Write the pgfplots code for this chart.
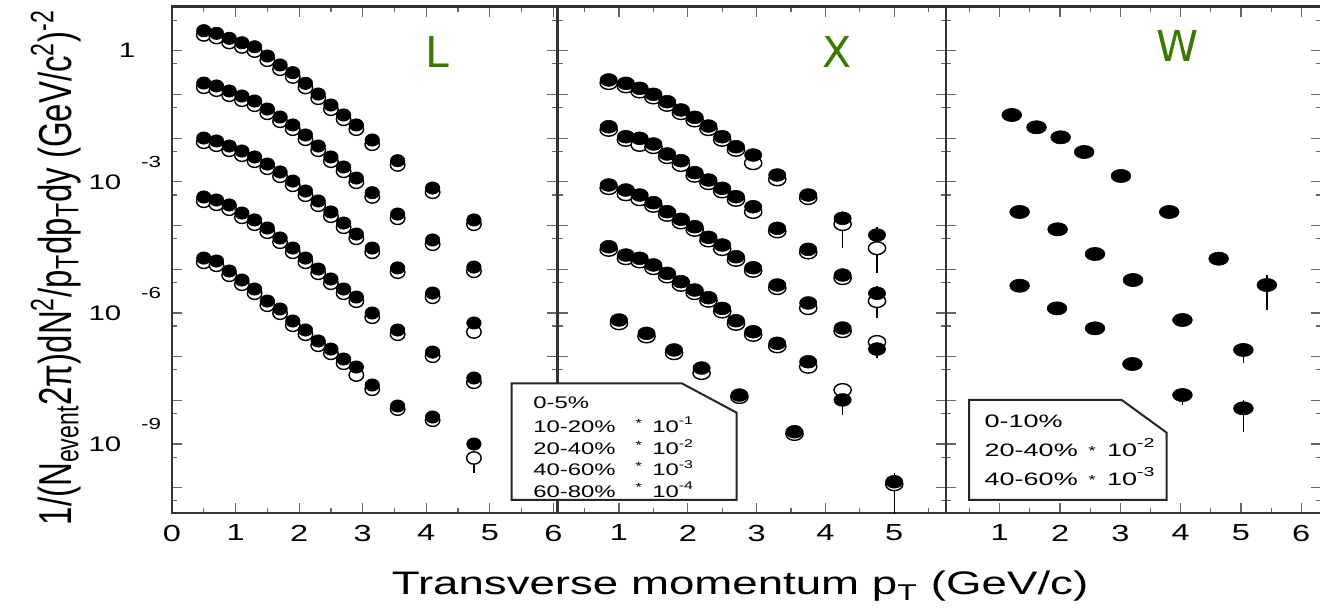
\documentclass[border=0pt]{standalone}
\usepackage{pgfplots}
\pgfplotsset{compat=1.18}
\usepackage{pgfplotstable}
\usepackage{graphicx}
\usepackage{fontspec}
\setmainfont{Liberation Sans}
\newfontfamily\letterfont{DejaVu Sans}
\definecolor{lgreen}{RGB}{59,122,0}
\newcommand{\sx}[1]{\scalebox{1.4}[1]{#1}}
\newcommand{\ylab}[1]{\makebox[0pt][c]{10}\rlap{\hspace{12.9pt}\smash{\raisebox{10.8pt}{\fontsize{8}{8}\selectfont #1}}}}

% ---------------- Lambda (L) ----------------
\pgfplotstableread{
x f o
0.5 2.87 2.30
0.7 2.50 2.00
0.9 1.92 1.54
1.1 1.52 1.22
1.3 1.23 0.98
1.5 0.756 0.605
1.7 0.471 0.377
1.9 0.314 0.251
2.1 0.1795 0.144
2.3 0.102 0.0816
2.5 0.0572 0.0458
2.7 0.0338 0.0270
2.9 0.0200 0.0160
3.15 0.00905 0.00724
3.55 0.00304 0.00243
4.1 7.21e-4 5.77e-4
4.75 1.34e-4 1.07e-4
}\LaA
\pgfplotstableread{
x f o
0.5 0.182 0.146
0.7 0.156 0.125
0.9 0.1197 0.0958
1.1 0.0919 0.0735
1.3 0.0706 0.0565
1.5 0.0463 0.0370
1.7 0.0304 0.0243
1.9 0.0200 0.0160
2.1 0.01178 0.00942
2.3 0.00659 0.00527
2.5 0.00370 0.00296
2.7 0.00218 0.00174
2.9 0.00122 9.76e-4
3.15 5.63e-4 4.50e-4
3.55 1.83e-4 1.46e-4
4.1 4.66e-5 3.73e-5
4.75 1.12e-5 8.96e-6
}\LaB
\pgfplotstableread{
x f o
0.5 0.01005 0.00804
0.7 0.00859 0.00687
0.9 0.00659 0.00527
1.1 0.00507 0.00406
1.3 0.00370 0.00296
1.5 0.00255 0.00204
1.7 0.00168 0.00134
1.9 0.00104 8.32e-4
2.1 6.16e-4 4.93e-4
2.3 3.64e-4 2.91e-4
2.5 2.04e-4 1.63e-4
2.7 1.14e-4 9.12e-5
2.9 6.38e-5 5.10e-5
3.15 3.05e-5 2.44e-5
3.55 1.07e-5 8.56e-6
4.1 2.85e-6 2.28e-6
4.75 5.88e-7 3.66e-7
}\LaC
\pgfplotstableread{
x f o
0.5 4.49e-4 3.59e-4
0.7 3.83e-4 3.06e-4
0.9 2.95e-4 2.36e-4
1.1 1.93e-4 1.54e-4
1.3 1.34e-4 1.07e-4
1.5 8.77e-5 7.02e-5
1.7 5.18e-5 4.14e-5
1.9 3.05e-5 2.44e-5
2.1 1.80e-5 1.44e-5
2.3 1.01e-5 8.08e-6
2.5 5.97e-6 4.78e-6
2.7 3.52e-6 2.82e-6
2.9 2.31e-6 1.85e-6
3.15 9.95e-7 7.96e-7
3.55 4.06e-7 3.25e-7
4.1 1.27e-7 1.02e-7
4.75 3.24e-8 2.59e-8
}\LaD
\pgfplotstableread{
x f o
0.5 1.80e-5 1.44e-5
0.7 1.54e-5 1.23e-5
0.9 9.10e-6 7.28e-6
1.1 5.66e-6 4.53e-6
1.3 3.52e-6 2.82e-6
1.5 1.87e-6 1.50e-6
1.7 1.23e-6 9.84e-7
1.9 6.53e-7 5.22e-7
2.1 4.06e-7 3.25e-7
2.3 2.28e-7 1.82e-7
2.5 1.49e-7 1.19e-7
2.7 8.81e-8 7.05e-8
2.9 5.78e-8 3.79e-8
3.15 2.24e-8 1.79e-8
3.55 7.41e-9 6.30e-9
4.1 4.15e-9 3.50e-9
4.75 1.00e-9 4.79e-10
}\LaE

% ---------------- Xi (X) ----------------
\pgfplotstableread{
x f o
0.85 0.214 0.182
1.1 0.1795 0.153
1.3 0.138 0.117
1.5 0.1005 0.0854
1.7 0.0681 0.0579
1.9 0.0440 0.0374
2.1 0.0299 0.0254
2.3 0.0189 0.0161
2.5 0.01076 0.00915
2.7 0.00635 0.00540
2.95 0.00410 0.00267
3.3 0.00143 0.00114
3.75 4.99e-4 4.24e-4
4.25 1.46e-4 1.08e-4
4.75 6.06e-5 3.03e-5
}\XiA
\pgfplotstableread{
x f o
0.85 0.01823 0.0155
1.1 0.01076 0.00915
1.3 0.00989 0.00700
1.5 0.00733 0.00623
1.7 0.00433 0.00368
1.9 0.00304 0.00243
2.1 0.00162 0.00138
2.3 0.00110 9.35e-4
2.5 7.10e-4 6.04e-4
2.7 4.56e-4 3.88e-4
2.95 2.69e-4 2.04e-4
3.3 8.63e-5 7.34e-5
3.75 2.85e-5 2.42e-5
4.25 7.36e-6 6.26e-6
4.75 2.81e-6 1.87e-6
}\XiB
\pgfplotstableread{
x f o
0.85 8.45e-4 7.2e-4
1.1 6.49e-4 5.2e-4
1.3 4.99e-4 4.0e-4
1.5 3.33e-4 2.83e-4
1.7 2.07e-4 1.76e-4
1.9 1.39e-4 1.18e-4
2.1 9.39e-5 7.98e-5
2.3 5.37e-5 4.56e-5
2.5 3.58e-5 2.9e-5
2.7 1.93e-5 1.64e-5
2.95 1.08e-5 9.2e-6
3.3 4.35e-6 3.7e-6
3.75 1.69e-6 1.29e-6
4.25 4.51e-7 3.83e-7
4.75 1.49e-7 2.16e-7
}\XiC
\pgfplotstableread{
x f o
0.85 3.27e-5 2.78e-5
1.1 2.11e-5 1.79e-5
1.3 1.78e-5 1.51e-5
1.5 1.25e-5 1.06e-5
1.7 8.05e-6 6.84e-6
1.9 5.18e-6 4.40e-6
2.1 3.34e-6 2.84e-6
2.3 2.23e-6 1.90e-6
2.5 1.27e-6 1.08e-6
2.7 6.63e-7 5.64e-7
2.95 3.71e-7 3.15e-7
3.3 2.02e-7 1.72e-7
3.75 7.64e-8 5.87e-8
4.25 1.02e-8 1.72e-8
}\XiD
\pgfplotstableread{
x f o
1.0 6.88e-7 5.8e-7
1.4 3.41e-7 2.9e-7
1.8 1.42e-7 1.2e-7
2.2 5.48e-8 4.21e-8
2.75 1.32e-8 1.19e-8
3.55 1.91e-9 1.7e-9
5.0 1.37e-10 1.2e-10
}\XiE

% ---------------- Omega (W) ----------------
\pgfplotstableread{
x f
1.20 0.0338
1.61 0.01767
2.01 0.01043
2.40 0.00481
3.01 0.00136
3.81 2.04e-4
4.63 1.74e-5
5.43 4.35e-6
}\OmA
\pgfplotstableread{
x f
1.33 2.04e-4
1.96 8.19e-5
2.58 2.23e-5
3.21 5.66e-6
4.03 6.88e-7
5.04 1.42e-7
}\OmB
\pgfplotstableread{
x f
1.33 4.19e-6
1.95 1.27e-6
2.58 4.44e-7
3.20 6.77e-8
4.03 1.32e-8
5.04 6.56e-9
}\OmC

\pgfplotsset{
  every axis/.append style={
    scale only axis, anchor=south west, height=253.15pt,
    ymin=2.64e-11, ymax=10.16,
    ytick={1e-10,1e-9,1e-8,1e-7,1e-6,1e-5,1e-4,1e-3,1e-2,1e-1,1,10},
    minor ytick={5e-11,5e-10,5e-9,5e-8,5e-7,5e-6,5e-5,5e-4,5e-3,5e-2,5e-1,5},
    axis line style={line width=1.2pt, black!80},
    tick style={line width=0.6pt, black!60},
    major tick length=5pt, minor tick length=2.5pt,
    tick align=inside,
    xticklabel style={font=\fontsize{11.6}{12}\selectfont, inner sep=0pt, anchor=north, yshift=-5.75pt},
    minor xtick={0.5,1.5,2.5,3.5,4.5,5.5},
  },
}
\tikzset{
  fA/.style={only marks, mark=*, mark size=3.1pt, mark options={fill=black, draw=black, line width=0.3pt, xscale=1.17}},
  oA/.style={only marks, mark=*, mark size=3.1pt, mark options={fill=white, draw=black, line width=0.7pt, xscale=1.17}},
  fB/.style={only marks, mark=*, mark size=3.2pt, mark options={fill=black, draw=black, line width=0.3pt, xscale=1.35}},
  oB/.style={only marks, mark=*, mark size=3.2pt, mark options={fill=white, draw=black, line width=0.7pt, xscale=1.35}},
  fC/.style={only marks, mark=*, mark size=3.3pt, mark options={fill=black, draw=black, line width=0.3pt, xscale=1.5}},
  myebar/.style={black, line width=0.7pt},
}

\begin{document}
\begin{tikzpicture}
\path[use as bounding box] (0,0) rectangle (660pt,304pt);

% ===== Panel 1 : L =====
\begin{semilogyaxis}[at={(86pt,47.5pt)}, width=192.5pt,
  xmin=0, xmax=6.057,
  xtick={0,1,2,3,4,5,6},
  xticklabels={\sx{0},\sx{1},\sx{2},\sx{3},\sx{4},\sx{5},\sx{6}},
  yticklabels={{},\sx{\ylab{-9}},{},{},\sx{\ylab{-6}},{},{},\sx{\ylab{-3}},{},{},\sx{\makebox[0pt][c]{\hspace{15.8pt}1}},{}},
  yticklabel style={anchor=center, inner sep=0pt, xshift=-33.5pt, font=\fontsize{10.5}{12}\selectfont},
]
\addplot[myebar, forget plot] coordinates {(4.75,2.17e-10) (4.75,6e-10)};
\addplot[oA] table[x=x,y=o]{\LaA};
\addplot[oA] table[x=x,y=o]{\LaB};
\addplot[oA] table[x=x,y=o]{\LaC};
\addplot[oA] table[x=x,y=o]{\LaD};
\addplot[oA] table[x=x,y=o]{\LaE};
\addplot[fA] table[x=x,y=f]{\LaA};
\addplot[fA] table[x=x,y=f]{\LaB};
\addplot[fA] table[x=x,y=f]{\LaC};
\addplot[fA] table[x=x,y=f]{\LaD};
\addplot[fA] table[x=x,y=f]{\LaE};
\end{semilogyaxis}

% ===== Panel 2 : X =====
\begin{semilogyaxis}[at={(278.75pt,47.5pt)}, width=194.25pt,
  xmin=0.106, xmax=5.753,
  xtick={1,2,3,4,5},
  xticklabels={\sx{1},\sx{2},\sx{3},\sx{4},\sx{5}},
  yticklabels={},
]
\addplot[myebar, forget plot] coordinates {(4.25,3.05e-5) (4.25,2.18e-4)};
\addplot[myebar, forget plot] coordinates {(4.75,8.18e-6) (4.75,9.24e-5)};
\addplot[myebar, forget plot] coordinates {(4.75,7.64e-7) (4.75,4.13e-6)};
\addplot[myebar, forget plot] coordinates {(4.75,9.3e-8) (4.75,2.2e-7)};
\addplot[myebar, forget plot] coordinates {(4.25,4.61e-9) (4.25,2.24e-8)};
\addplot[myebar, forget plot] coordinates {(3.55,1.24e-9) (3.55,2.4e-9)};
\addplot[myebar, forget plot] coordinates {(5.0,1e-11) (5.0,2.2e-10)};
\addplot[oB] table[x=x,y=o]{\XiA};
\addplot[oB] table[x=x,y=o]{\XiB};
\addplot[oB] table[x=x,y=o]{\XiC};
\addplot[oB] table[x=x,y=o]{\XiD};
\addplot[oB] table[x=x,y=o]{\XiE};
\addplot[fB] table[x=x,y=f]{\XiA};
\addplot[fB] table[x=x,y=f]{\XiB};
\addplot[fB] table[x=x,y=f]{\XiC};
\addplot[fB] table[x=x,y=f]{\XiD};
\addplot[fB] table[x=x,y=f]{\XiE};
\end{semilogyaxis}

% ===== Panel 3 : W =====
\begin{semilogyaxis}[at={(473pt,47.5pt)}, width=187.5pt,
  xmin=0.109, xmax=6.328,
  xtick={1,2,3,4,5,6},
  xticklabels={\sx{1},\sx{2},\sx{3},\sx{4},\sx{5},\sx{6}},
  yticklabels={},
]
\addplot[myebar, forget plot] coordinates {(5.43,1.16e-6) (5.43,7.36e-6)};
\addplot[myebar, forget plot] coordinates {(5.04,7.14e-8) (5.04,2.05e-7)};
\addplot[myebar, forget plot] coordinates {(5.04,1.91e-9) (5.04,1.02e-8)};
\addplot[myebar, forget plot] coordinates {(4.03,7.8e-9) (4.03,1.5e-8)};
\addplot[fC] table[x=x,y=f]{\OmA};
\addplot[fC] table[x=x,y=f]{\OmB};
\addplot[fC] table[x=x,y=f]{\OmC};
\end{semilogyaxis}

% ===== legend boxes =====
\draw[line width=1pt, black!85, fill=white] (255.85pt,112.35pt) -- (340.85pt,112.35pt) -- (368.35pt,97.65pt) -- (368.35pt,54pt) -- (255.85pt,54pt) -- cycle;
\begin{scope}[every node/.style={anchor=base west, inner sep=0pt, font=\fontsize{8.4}{9}\selectfont}]
\node at (266.5pt,99.6pt) {\scalebox{1.42}[1]{0-5\%}};
\node at (266.5pt,87.6pt) {\scalebox{1.42}[1]{10-20\%}};
\node at (266.5pt,76.5pt) {\scalebox{1.42}[1]{20-40\%}};
\node at (266.5pt,66pt) {\scalebox{1.42}[1]{40-60\%}};
\node at (266.5pt,55.2pt) {\scalebox{1.42}[1]{60-80\%}};
\node at (317.5pt,87.6pt) {\scalebox{1.42}[1]{\raisebox{2.8pt}{\fontsize{6}{6}\selectfont *}\hspace{3.6pt}10\raisebox{3.9pt}{\fontsize{5.6}{6}\selectfont -1}}};
\node at (317.5pt,76.5pt) {\scalebox{1.42}[1]{\raisebox{2.8pt}{\fontsize{6}{6}\selectfont *}\hspace{3.6pt}10\raisebox{3.9pt}{\fontsize{5.6}{6}\selectfont -2}}};
\node at (317.5pt,66pt) {\scalebox{1.42}[1]{\raisebox{2.8pt}{\fontsize{6}{6}\selectfont *}\hspace{3.6pt}10\raisebox{3.9pt}{\fontsize{5.6}{6}\selectfont -3}}};
\node at (317.5pt,55.2pt) {\scalebox{1.42}[1]{\raisebox{2.8pt}{\fontsize{6}{6}\selectfont *}\hspace{3.6pt}10\raisebox{3.9pt}{\fontsize{5.6}{6}\selectfont -4}}};
\end{scope}

\draw[line width=1pt, black!85, fill=white] (484.5pt,104pt) -- (560.85pt,104pt) -- (583.35pt,87.65pt) -- (583.35pt,54pt) -- (484.5pt,54pt) -- cycle;
\begin{scope}[every node/.style={anchor=base west, inner sep=0pt, font=\fontsize{9}{10}\selectfont}]
\node at (492.15pt,90.35pt) {\scalebox{1.5}[1]{0-10\%}};
\node at (492.15pt,75.65pt) {\scalebox{1.5}[1]{20-40\%}};
\node at (492.15pt,61pt) {\scalebox{1.5}[1]{40-60\%}};
\node at (544pt,75.65pt) {\scalebox{1.5}[1]{\raisebox{0.8pt}{\fontsize{6.5}{7}\selectfont *}\hspace{3.7pt}10\raisebox{4.6pt}{\fontsize{6.5}{7}\selectfont -2}}};
\node at (544pt,61pt) {\scalebox{1.5}[1]{\raisebox{0.8pt}{\fontsize{6.5}{7}\selectfont *}\hspace{3.7pt}10\raisebox{4.6pt}{\fontsize{6.5}{7}\selectfont -3}}};
\end{scope}

% ===== panel letters =====
\begin{scope}[every node/.style={anchor=center, inner sep=0pt, text=lgreen, font=\letterfont\fontsize{21.3}{22}\selectfont}]
\node at (218.5pt,278.2pt) {L};
\node at (418.35pt,278pt) {X};
\node at (589pt,281pt) {W};
\end{scope}

% ===== axis titles =====
\node[anchor=base, inner sep=0pt] at (370pt,6.5pt) {\scalebox{1.4}[1]{\fontsize{16.3}{18}\selectfont Transverse momentum p\textsubscript{T} (GeV/c)}};
\node[rotate=90, anchor=base, inner sep=0pt] at (35.5pt,170.25pt) {\scalebox{1}[1.4]{\fontsize{16.5}{18}\selectfont 1/(N\textsubscript{event}2π)dN\textsuperscript{2}/p\textsubscript{T}dp\textsubscript{T}dy (GeV/c\textsuperscript{2})\textsuperscript{-2}}};
\end{tikzpicture}
\end{document}
